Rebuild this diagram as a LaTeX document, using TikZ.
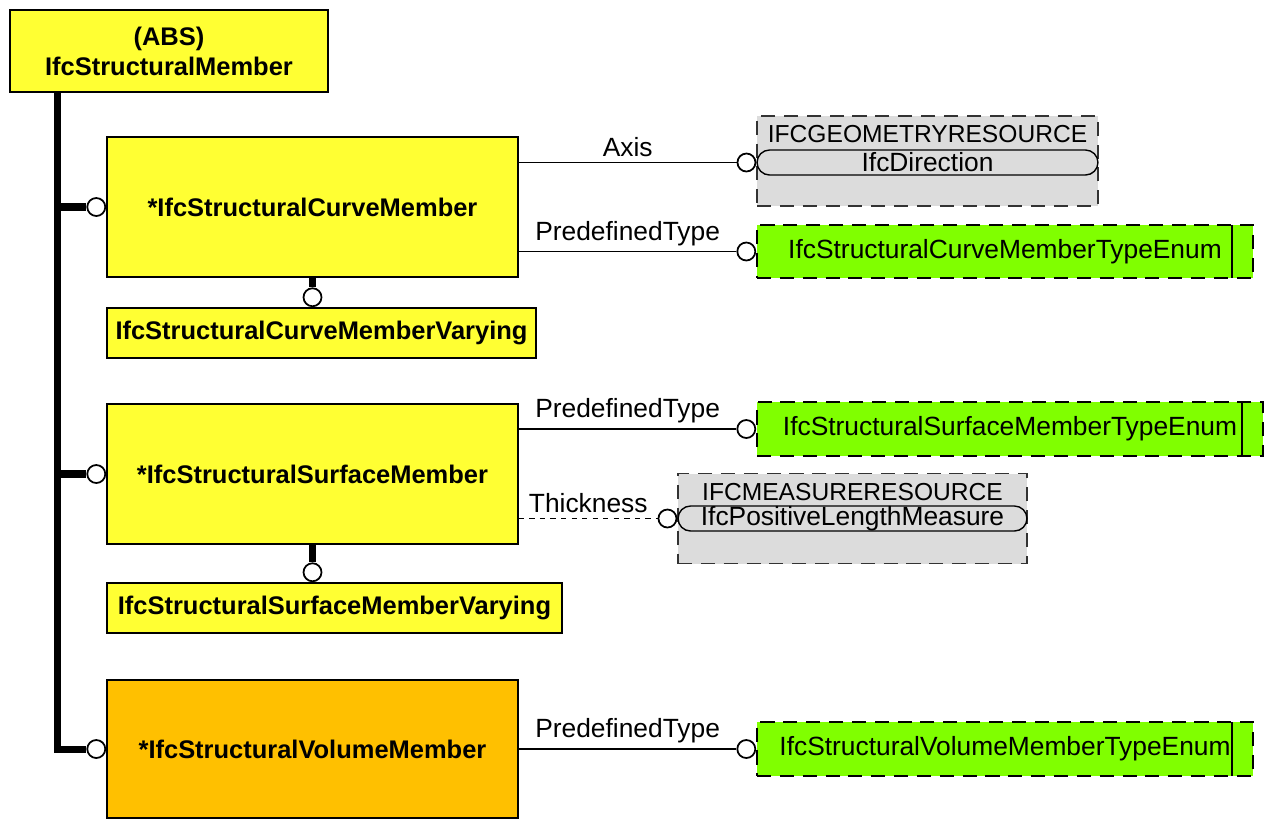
\documentclass[tikz,border=0pt]{standalone}
\usepackage{fontspec}
\setmainfont{Liberation Sans}
\usetikzlibrary{positioning}
\definecolor{entyellow}{HTML}{FFFF33}
\definecolor{entorange}{HTML}{FFC000}
\definecolor{enumgreen}{HTML}{80FF00}
\definecolor{resgray}{HTML}{DCDCDC}

\begin{document}
\begin{tikzpicture}[
  x=0.02cm, y=-0.02cm,
  entity/.style={
    draw=black, line width=1pt, fill=entyellow, align=center, inner sep=0pt,
    font=\fontsize{14.5}{17}\selectfont\bfseries
  },
  abstract/.style={entity, minimum width=6.36cm, minimum height=1.64cm},
  member/.style={entity, minimum width=8.22cm, minimum height=2.8cm},
  varying/.style={entity, minimum height=1cm},
  enumbox/.style={
    draw=black, line width=1pt, dash pattern=on 8pt off 5pt, fill=enumgreen,
    minimum height=1.07cm, inner sep=0pt, font=\fontsize{15}{18}\selectfont,
    path picture={\draw[solid, line width=1.2pt]
      ([xshift=-0.42cm]path picture bounding box.north east) --
      ([xshift=-0.42cm]path picture bounding box.south east);}
  },
  resource/.style={
    draw=black!80, line width=1pt, dash pattern=on 8pt off 5pt, fill=resgray,
    minimum height=1.8cm, inner sep=0pt
  },
  restitle/.style={anchor=north, inner sep=0pt, yshift=-0.2cm, font=\fontsize{14}{17}\selectfont},
  pill/.style={
    draw=black, line width=0.8pt, fill=resgray, rounded corners=0.25cm,
    minimum height=0.5cm, inner sep=0pt, font=\fontsize{15}{18}\selectfont
  },
  ring/.style={circle, draw=black, line width=1pt, fill=white, minimum size=0.36cm, inner sep=0pt},
  trunk/.style={line width=4pt},
  attr/.style={line width=0.8pt},
  role/.style={font=\fontsize{15}{18}\selectfont, inner sep=3pt}
]
\useasboundingbox (0,0) rectangle (1267,819);

% entities
\node[abstract] (abs) at (169,51) {(ABS)\\IfcStructuralMember};
\node[member] (curve) at (312.5,207) {*IfcStructuralCurveMember};
\node[varying, minimum width=8.58cm] (curvevar) at (321.5,333) {IfcStructuralCurveMemberVarying};
\node[member] (surf) at (312.5,474) {*IfcStructuralSurfaceMember};
\node[varying, minimum width=9.1cm] (surfvar) at (334.5,608) {IfcStructuralSurfaceMemberVarying};
\node[member, fill=entorange, minimum height=2.76cm] (vol) at (312.5,749) {*IfcStructuralVolumeMember};

% referenced types
\node[resource, minimum width=6.82cm,
  label={[restitle]north:IFCGEOMETRYRESOURCE}] (geo) at (927.5,161) {};
\node[pill, minimum width=6.82cm] (dir) at (927.5,162.5) {IfcDirection};
\node[enumbox, minimum width=9.92cm] (curveenum) at (1005,251.5) {IfcStructuralCurveMemberTypeEnum};
\node[enumbox, minimum width=10.12cm] (surfenum) at (1010,429) {IfcStructuralSurfaceMemberTypeEnum};
\node[resource, minimum width=6.98cm,
  label={[restitle]north:IFCMEASURERESOURCE}] (meas) at (852.5,518.5) {};
\node[pill, minimum width=6.98cm] (plm) at (852.5,518.5) {IfcPositiveLengthMeasure};
\node[enumbox, minimum width=9.92cm] (volenum) at (1005,749) {IfcStructuralVolumeMemberTypeEnum};

% subtype rings
\node[ring, left=0pt of curve] (rc) {};
\node[ring, left=0pt of surf] (rs) {};
\node[ring, left=0pt of vol] (rv) {};
\node[ring, anchor=south] (rcv) at (curve.south |- curvevar.north) {};
\node[ring, anchor=south] (rsv) at (surf.south |- surfvar.north) {};

% attribute rings
\node[ring, left=0pt of dir] (rdir) {};
\node[ring, left=0pt of curveenum] (rce) {};
\node[ring, left=0pt of surfenum] (rse) {};
\node[ring, left=0pt of plm] (rplm) {};
\node[ring, left=0pt of volenum] (rve) {};

% inheritance
\draw[trunk] (abs.south west) ++(0.96cm,0) coordinate (tk) |- (rv.west);
\draw[trunk] (tk |- rc) -- (rc.west);
\draw[trunk] (tk |- rs) -- (rs.west);
\draw[trunk] (curve.south) -- (rcv.north);
\draw[trunk] (surf.south) -- (rsv.north);

% attributes
\draw[attr] (rdir -| curve.east) -- (rdir.west) node[role, midway, above] {Axis};
\draw[attr] (rce -| curve.east) -- (rce.west) node[role, midway, above] {PredefinedType};
\draw[attr] (rse -| surf.east) -- (rse.west) node[role, midway, above] {PredefinedType};
\draw[attr, dashed] (rplm -| surf.east) -- (rplm.west) node[role, midway, above] {Thickness};
\draw[attr] (rve -| vol.east) -- (rve.west) node[role, midway, above] {PredefinedType};
\end{tikzpicture}
\end{document}
